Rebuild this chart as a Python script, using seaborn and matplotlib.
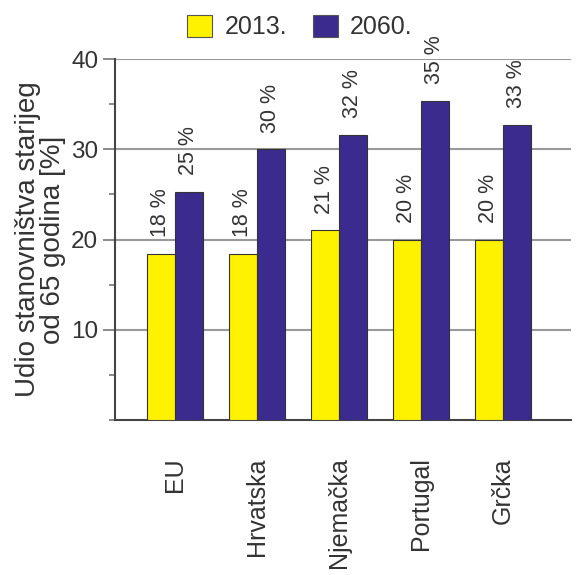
import matplotlib
matplotlib.use("Agg")
import matplotlib.pyplot as plt
import seaborn as sns
import pandas as pd
from matplotlib.ticker import MultipleLocator

countries = ["EU", "Hrvatska", "Njemačka", "Portugal", "Grčka"]
years = ["2013.", "2060."]
share_2013 = [18.4, 18.4, 21.0, 20.0, 20.0]
share_2060 = [25.3, 30.0, 31.6, 35.4, 32.7]
yticks = [10, 20, 30, 40]
ylabel = "Udio stanovništva starijeg\nod 65 godina [%]"

df = pd.DataFrame({
    "country": countries * 2,
    "year": [years[0]] * len(countries) + [years[1]] * len(countries),
    "share": share_2013 + share_2060,
})

sns.set_theme(style="white")
plt.rcParams["font.family"] = ["Liberation Sans", "DejaVu Sans"]

fig = plt.figure(figsize=(5.77, 5.75), dpi=100)
ax = fig.add_axes([115 / 577, 1 - 420 / 575, (571 - 115) / 577, (420 - 59) / 575])

palette = {"2013.": "#FFF200", "2060.": "#3C2B8E"}
sns.barplot(data=df, x="country", y="share", hue="year", order=countries,
            hue_order=years, palette=palette, width=0.68, saturation=1,
            edgecolor="#333333", linewidth=0.8, ax=ax, zorder=3)

# percentage labels above each bar, derived from the bar heights
for container in ax.containers:
    for bar in container:
        h = bar.get_height()
        ax.annotate(f"{h:.0f} %", (bar.get_x() + bar.get_width() / 2, h),
                    xytext=(0, 12), textcoords="offset points",
                    rotation=90, ha="center", va="bottom",
                    fontsize=15.5, color="#333333")

ax.set_ylim(0, 40)
ax.set_xlim(-0.73, 4.83)
ax.yaxis.set_major_locator(MultipleLocator(10))
ax.yaxis.set_minor_locator(MultipleLocator(5))
ax.set_yticks(yticks)
ax.grid(axis="y", color="#999999", linewidth=1.5, zorder=0)
ax.set_axisbelow(True)

for side in ["top", "right"]:
    ax.spines[side].set_visible(False)
for side in ["left", "bottom"]:
    ax.spines[side].set_color("#444444")
    ax.spines[side].set_linewidth(1.5)

ax.tick_params(axis="y", which="major", left=True, length=9, width=1.2,
               color="#777777", labelsize=17.5, labelcolor="#333333", pad=3)
ax.tick_params(axis="y", which="minor", left=True, length=4.5, width=1.2,
               color="#777777")
ax.tick_params(axis="x", bottom=False, labelsize=18, labelcolor="#333333",
               pad=21)
for lbl in ax.get_xticklabels():
    lbl.set_rotation(90)
    lbl.set_va("top")

ax.set_xlabel("")
ax.set_ylabel(ylabel, fontsize=20, color="#333333", labelpad=4,
              linespacing=0.95)

ax.get_legend().remove()
handles = [plt.Rectangle((0, 0), 1, 1, facecolor=palette[y],
                         edgecolor="#555555", linewidth=0.8) for y in years]
fig.legend(handles, years, loc="center", bbox_to_anchor=(300 / 577, 1 - 27 / 575),
           ncol=2, frameon=False, fontsize=18, handlelength=1.0,
           handleheight=1.0, handletextpad=0.5, columnspacing=1.0,
           labelcolor="#333333")

fig.savefig("out.png", dpi=100)
